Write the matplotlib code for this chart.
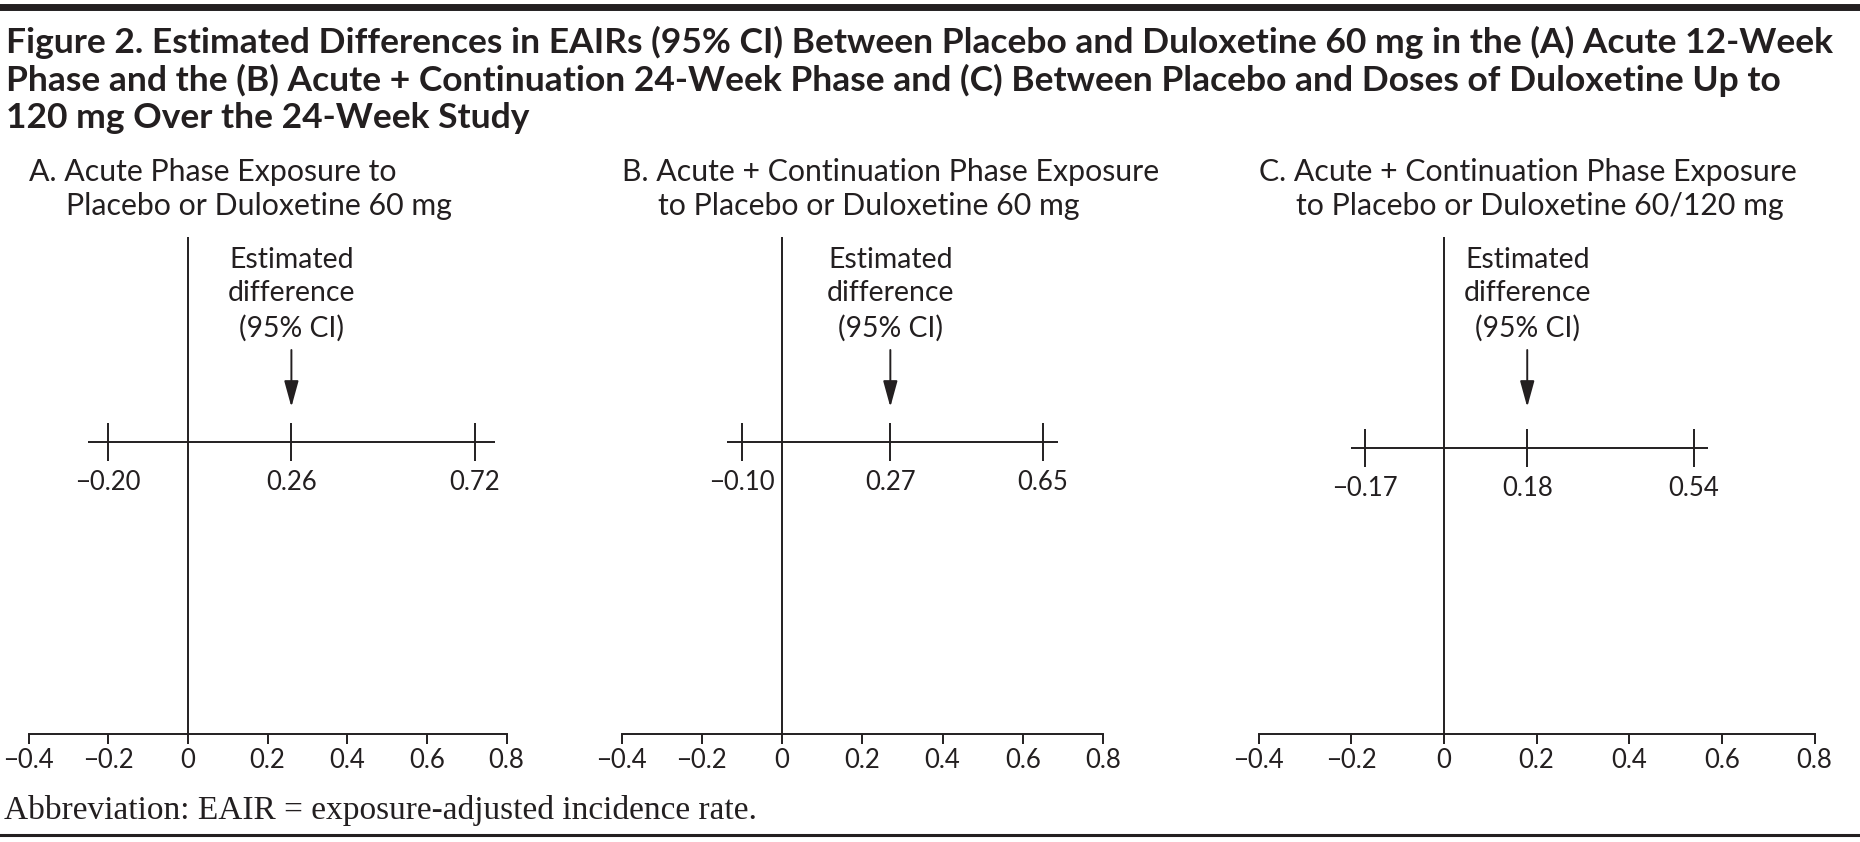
import matplotlib
matplotlib.use("Agg")
import matplotlib.pyplot as plt
from matplotlib.lines import Line2D
from matplotlib.ticker import FixedLocator, FuncFormatter

plt.rcParams["font.family"] = ["Lato", "DejaVu Sans"]

# ---- data ----
panel_line1 = ["A. Acute Phase Exposure to",
               "B. Acute + Continuation Phase Exposure",
               "C. Acute + Continuation Phase Exposure"]
panel_line2 = ["Placebo or Duloxetine 60 mg",
               "to Placebo or Duloxetine 60 mg",
               "to Placebo or Duloxetine 60/120 mg"]
estimate = [0.26, 0.27, 0.18]
ci_low = [-0.20, -0.10, -0.17]
ci_high = [0.72, 0.65, 0.54]
axis_ticks = [-0.4, -0.2, 0, 0.2, 0.4, 0.6, 0.8]

title_lines = [
    "Figure 2. Estimated Differences in EAIRs (95% CI) Between Placebo and Duloxetine 60 mg in the (A) Acute 12-Week",
    "Phase and the (B) Acute + Continuation 24-Week Phase and (C) Between Placebo and Doses of Duloxetine Up to",
    "120 mg Over the 24-Week Study",
]
footnote = "Abbreviation: EAIR = exposure-adjusted incidence rate."

# ---- layout (pixels of the 1860x842 canvas) ----
W, H = 1860, 842
INK = "#231f20"
LW = 1.4
ax_left = [28.5, 621.5, 1258.5]
ax_right = [506.5, 1103, 1814.5]
ax_top, ax_bot = 237, 734
ci_y = [442, 442, 448]
ext = [0.05, 0.037, 0.03]


def fy(px):
    return 1 - px / H


def num(v):
    return f"{v:.2f}".replace("-", "\u2212")


def axnum(v, pos=None):
    if abs(v) < 1e-9:
        return "0"
    return f"{v:g}".replace("-", "\u2212")


fig = plt.figure(figsize=(W / 100, H / 100), dpi=100)

# rules
fig.add_artist(Line2D([0, 1], [fy(7), fy(7)], color=INK, lw=5, transform=fig.transFigure))
fig.add_artist(Line2D([0, 1], [fy(834.5), fy(834.5)], color=INK, lw=2.2, transform=fig.transFigure))

# title
for i, t in enumerate(title_lines):
    fig.text(6 / W, fy(42 + 38 * i), t, fontsize=25.5, fontweight="bold", color=INK,
             va="center", ha="left")

for i in range(3):
    ax = fig.add_axes([ax_left[i] / W, fy(ax_bot), (ax_right[i] - ax_left[i]) / W,
                       (ax_bot - ax_top) / H])
    ax.set_xlim(-0.4, 0.8)
    ax.set_ylim(ax_bot, ax_top)
    for s in ["top", "right", "left"]:
        ax.spines[s].set_visible(False)
    ax.spines["bottom"].set_color(INK)
    ax.spines["bottom"].set_linewidth(LW)
    ax.xaxis.set_major_locator(FixedLocator(axis_ticks))
    ax.xaxis.set_major_formatter(FuncFormatter(axnum))
    ax.tick_params(axis="x", direction="out", length=7, width=LW, color=INK,
                   labelsize=18.5, labelcolor=INK, pad=3)
    ax.set_yticks([])
    ax.patch.set_visible(False)

    # zero line
    ax.axvline(0, color=INK, lw=LW)

    # CI line with ticks
    y = ci_y[i]
    ax.plot([ci_low[i] - ext[i], ci_high[i] + ext[i]], [y, y], color=INK, lw=LW,
            solid_capstyle="butt")
    for v in (ci_low[i], estimate[i], ci_high[i]):
        ax.plot([v, v], [y - 19, y + 19], color=INK, lw=LW, solid_capstyle="butt")
        ax.text(v, y + 41, num(v), ha="center", va="center", fontsize=18.5, color=INK)

    # arrow + annotation
    ax.annotate("", xy=(estimate[i], 407), xytext=(estimate[i], 350),
                arrowprops=dict(arrowstyle="-|>,head_length=0.8,head_width=0.22",
                                mutation_scale=20, lw=LW, color=INK,
                                shrinkA=0, shrinkB=0))
    ax.text(estimate[i], 294, "Estimated\ndifference\n(95% CI)", ha="center", va="center",
            fontsize=20.4, color=INK, linespacing=1.37)

    # panel titles (hanging indent)
    fig.text(ax_left[i] / W, fy(172), panel_line1[i], fontsize=21.8, color=INK,
             ha="left", va="center")
    fig.text((ax_left[i] + 37) / W, fy(206), panel_line2[i], fontsize=21.8, color=INK,
             ha="left", va="center")

fig.text(4 / W, fy(810), footnote, fontsize=24, color=INK, ha="left", va="center",
         family=["Liberation Serif", "DejaVu Serif"])

fig.savefig("out.png", dpi=100)
